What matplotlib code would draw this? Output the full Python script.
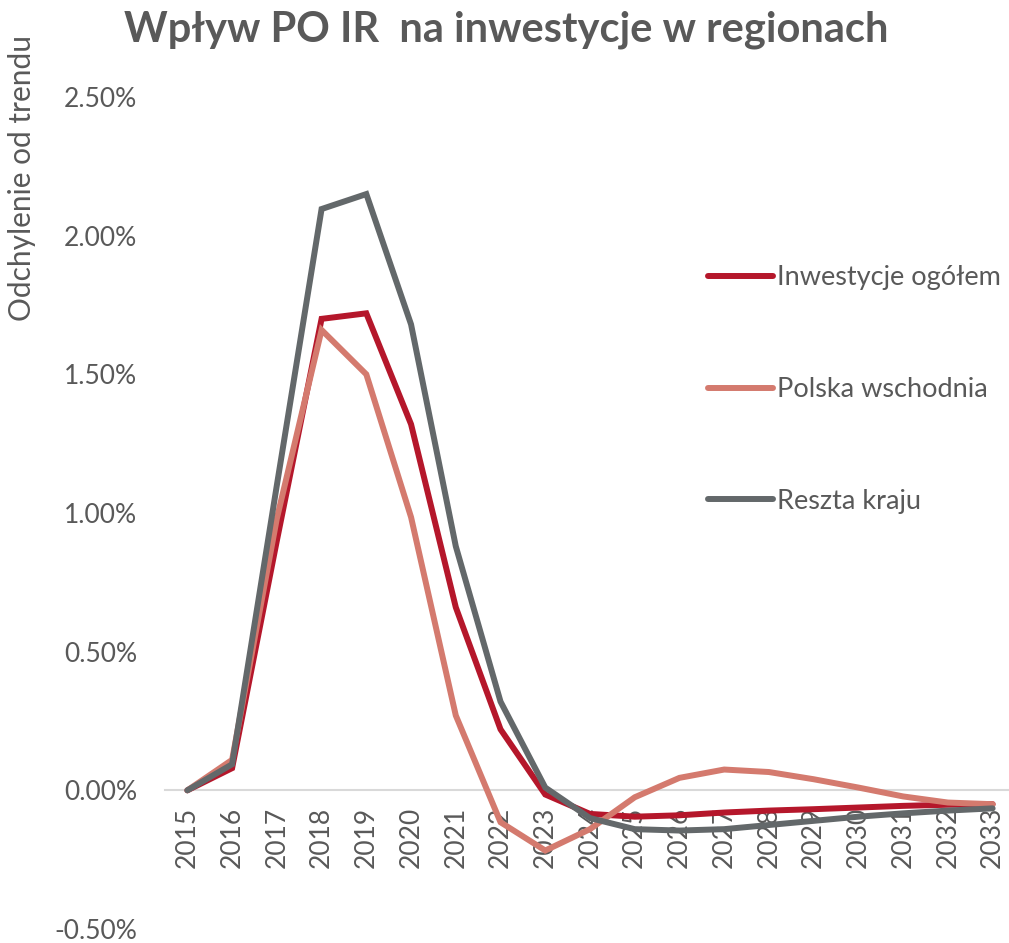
import matplotlib
matplotlib.use('agg')
import matplotlib.pyplot as plt
from matplotlib.ticker import FuncFormatter

# odchylenie od trendu, w %
years = [str(y) for y in range(2015, 2034)]
inwestycje_ogolem = [0.00, 0.08, 0.90, 1.70, 1.72, 1.32, 0.66, 0.22, -0.015, -0.085,
                     -0.095, -0.09, -0.08, -0.073, -0.068, -0.062, -0.056, -0.052, -0.05]
polska_wschodnia = [0.00, 0.11, 0.98, 1.66, 1.50, 0.985, 0.27, -0.115, -0.217, -0.14,
                    -0.025, 0.045, 0.075, 0.066, 0.04, 0.01, -0.022, -0.044, -0.05]
reszta_kraju = [0.00, 0.094, 1.10, 2.096, 2.15, 1.68, 0.88, 0.32, 0.01, -0.10,
                -0.14, -0.145, -0.14, -0.125, -0.11, -0.095, -0.083, -0.073, -0.065]
y_ticks = [-0.5, 0.0, 0.5, 1.0, 1.5, 2.0, 2.5]

text_color = '#595959'
plt.rcParams['font.family'] = ['Lato', 'DejaVu Sans']

fig = plt.figure(figsize=(10.09, 9.43), dpi=100)
ax = fig.add_axes([165 / 1009, 14 / 943, 850 / 1009, 832 / 943])

x = range(len(years))
ax.plot(x, inwestycje_ogolem, color='#B5172B', lw=4.3, label='Inwestycje ogółem',
        solid_capstyle='round', solid_joinstyle='miter')
ax.plot(x, polska_wschodnia, color='#D47A6E', lw=4.3, label='Polska wschodnia',
        solid_capstyle='round', solid_joinstyle='miter')
ax.plot(x, reszta_kraju, color='#63686A', lw=4.3, label='Reszta kraju',
        solid_capstyle='round', solid_joinstyle='miter')

ax.set_xlim(-0.5, len(years) - 0.5)
ax.set_ylim(-0.5, 2.5)
ax.set_yticks(y_ticks)
ax.yaxis.set_major_formatter(FuncFormatter(lambda v, p: f'{v:.2f}%'))
ax.set_xticks(list(x))
ax.set_xticklabels(years)

for s in ['top', 'right', 'left']:
    ax.spines[s].set_visible(False)
ax.spines['bottom'].set_position(('data', 0))
ax.spines['bottom'].set_color('#d9d9d9')
ax.spines['bottom'].set_linewidth(1.5)
ax.spines['bottom'].set_zorder(0)

ax.tick_params(axis='x', length=0, pad=12, labelsize=19, labelcolor=text_color,
               labelrotation=90)
ax.tick_params(axis='y', length=0, pad=20, labelsize=19, labelcolor=text_color)

fig.text(0.502, 0.968, 'Wpływ PO IR  na inwestycje w regionach', ha='center', va='center',
         fontsize=30, fontweight='bold', color=text_color)
fig.text(0.022, 0.811, 'Odchylenie od trendu', rotation=90, ha='center', va='center',
         fontsize=21.5, color=text_color)

leg = ax.legend(loc='upper left', bbox_to_anchor=(684 / 1009, 1 - 241 / 943),
                bbox_transform=fig.transFigure, frameon=False, fontsize=19.5,
                handlelength=2.4, handletextpad=0.15, labelspacing=3.2)
for t in leg.get_texts():
    t.set_color(text_color)

plt.savefig('out.png', dpi=100)
